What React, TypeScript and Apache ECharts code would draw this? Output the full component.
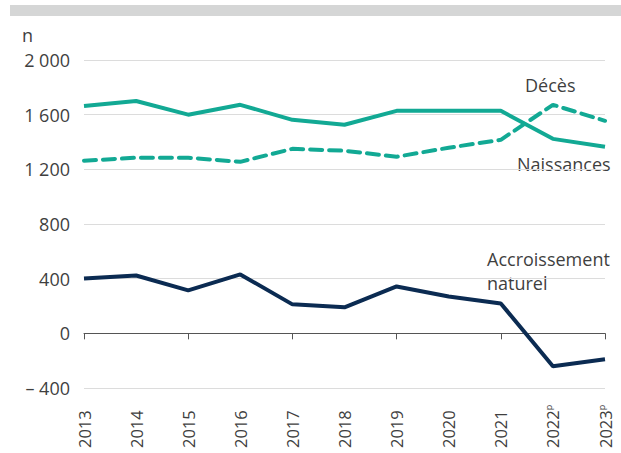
import React, { useEffect, useRef } from "react";
import * as echarts from "echarts";

const years = ["2013", "2014", "2015", "2016", "2017", "2018", "2019", "2020", "2021", "2022", "2023"];
const provisional = [false, false, false, false, false, false, false, false, false, true, true];
const naissances = [1664, 1700, 1600, 1672, 1562, 1526, 1628, 1628, 1628, 1423, 1365];
const deces = [1263, 1285, 1285, 1255, 1350, 1336, 1292, 1358, 1416, 1672, 1555];
const accroissement = [401, 423, 314, 431, 212, 190, 343, 270, 219, -241, -190];
const yTicks = { min: -400, max: 2000, interval: 400 };

const TEAL = "#12a994";
const NAVY = "#0b2b52";
const TXT = "#3f3f3f";
const FONT = "Open Sans";
const FS = 18;

function fmt(v: number): string {
  const a = Math.abs(v);
  const s = a >= 1000 ? Math.floor(a / 1000) + " " + String(a % 1000).padStart(3, "0") : String(a);
  return v < 0 ? "\u2013 " + s : s;
}

export default function App() {
  const ref = useRef<HTMLDivElement>(null);
  useEffect(() => {
    if (!ref.current) return;
    const chart = echarts.init(ref.current, undefined, { renderer: "svg" });
    const labels = years.map((y, i) => (provisional[i] ? y + "{p|p}" : y));
    const txt = { fill: TXT, fontSize: FS, fontFamily: FONT };
    chart.setOption({
      animation: false,
      textStyle: { fontFamily: FONT },
      grid: { left: 84, right: 16, top: 60, bottom: 65 },
      xAxis: [
        {
          type: "category",
          data: labels,
          boundaryGap: false,
          axisLine: { onZero: true, lineStyle: { color: "#555", width: 1 } },
          axisTick: { show: true, length: 6, lineStyle: { color: "#555" } },
          axisLabel: { show: false },
          splitLine: { show: false },
        },
        {
          type: "category",
          data: labels,
          boundaryGap: false,
          position: "bottom",
          axisLine: { show: false, onZero: false },
          axisTick: { show: false },
          axisLabel: {
            rotate: 90,
            align: "left",
            verticalAlign: "middle",
            margin: 60,
            color: TXT,
            fontSize: 16.5,
            fontFamily: FONT,
            interval: 0,
            rich: { p: { fontSize: 9, color: TXT, verticalAlign: "top", fontFamily: FONT } },
          },
        },
      ],
      yAxis: {
        type: "value",
        min: yTicks.min,
        max: yTicks.max,
        interval: yTicks.interval,
        axisLine: { show: false },
        axisTick: { show: false },
        axisLabel: {
          color: TXT,
          fontSize: FS,
          fontFamily: FONT,
          margin: 14,
          formatter: (v: number) => fmt(v),
        },
        splitLine: { lineStyle: { color: "#dcdcdc", width: 1 } },
      },
      series: [
        {
          name: "Naissances",
          type: "line",
          data: naissances,
          symbol: "none",
          lineStyle: { color: TEAL, width: 4 },
        },
        {
          name: "Décès",
          type: "line",
          data: deces,
          symbol: "none",
          lineStyle: { color: TEAL, width: 4, type: [12, 7], cap: "round" },
        },
        {
          name: "Accroissement naturel",
          type: "line",
          data: accroissement,
          symbol: "none",
          lineStyle: { color: NAVY, width: 4 },
        },
      ],
      graphic: [
        { type: "rect", left: 10, top: 5, shape: { width: 611, height: 11 }, style: { fill: "#d5d6d6" } },
        { type: "text", left: 22, top: 26, style: { text: "n", ...txt } },
        { type: "text", left: 525, top: 76, style: { text: "Décès", ...txt } },
        { type: "text", left: 517, top: 155, style: { text: "Naissances", ...txt } },
        {
          type: "text",
          left: 487,
          top: 247,
          style: { text: "Accroissement\nnaturel", ...txt, lineHeight: 24 },
        },
      ],
    });
    return () => chart.dispose();
  }, []);
  return <div ref={ref} style={{ width: 621, height: 453, position: "absolute", left: 0, top: 0 }} />;
}
